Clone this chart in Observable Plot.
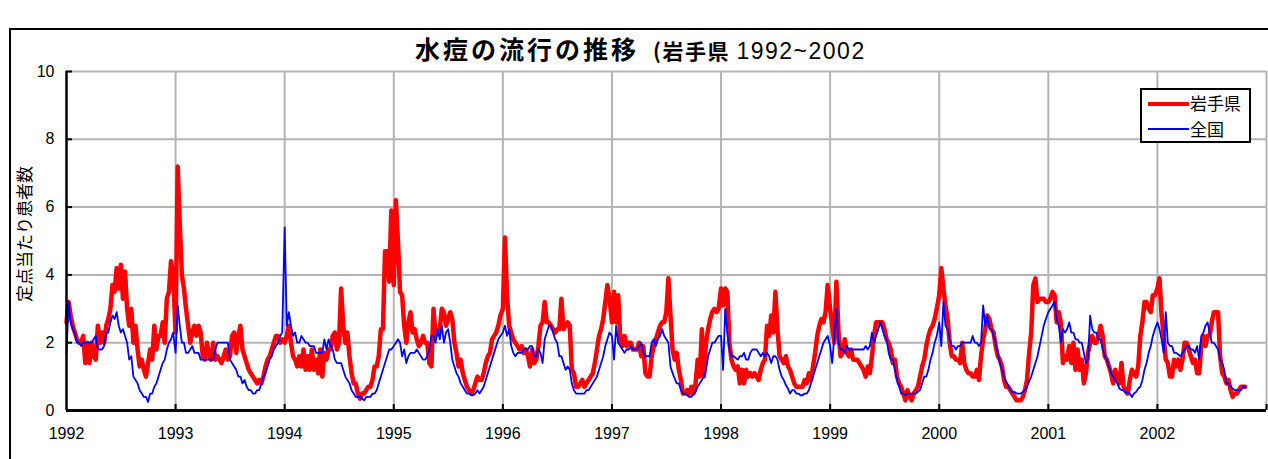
<!DOCTYPE html>
<html><head><meta charset="utf-8">
<script src="https://cdn.jsdelivr.net/npm/d3@7"></script>
<script src="https://cdn.jsdelivr.net/npm/@observablehq/plot@0.6"></script>
<style>
html,body{margin:0;padding:0;background:#fff;}
#wrap{position:relative;width:1268px;height:459px;overflow:hidden;font-family:"Liberation Sans",Arial,sans-serif;}
#frame{position:absolute;left:9px;top:28px;width:1300px;height:500px;border:2px solid #000;box-sizing:border-box;}
#chart{position:absolute;left:0;top:0;}
#title{position:absolute;left:415px;top:30px;white-space:nowrap;color:#000;}
#title .main{font-family:"Noto Sans CJK JP",sans-serif;font-weight:700;font-size:25px;letter-spacing:3px;}
#title .pref{font-family:"Noto Sans CJK JP",sans-serif;font-weight:700;font-size:21px;letter-spacing:1.5px;margin-left:14px;}
#title .yrs{font-family:"Liberation Sans",sans-serif;font-size:23px;letter-spacing:1.5px;margin-left:2px;}
#ytitle{position:absolute;left:-76px;top:224px;width:200px;height:20px;line-height:20px;text-align:center;transform:rotate(-90deg);font-family:"Noto Sans CJK JP",sans-serif;font-size:17px;color:#000;}
#legend{position:absolute;left:1140px;top:88px;width:111px;height:55px;border:2px solid #000;background:#fff;box-sizing:border-box;}
#legend .row{position:absolute;left:0;height:22px;line-height:22px;font-family:"Noto Sans CJK JP",sans-serif;font-size:17px;color:#000;}
#legend .sw{position:absolute;left:6px;width:41px;}
#legend .lab{position:absolute;left:48px;white-space:nowrap;}
</style></head>
<body>
<div id="wrap">
  <div id="frame"></div>
  <div id="chart"></div>
  <div id="title"><span class="main">水痘の流行の推移</span><span class="pref">(岩手県</span> <span class="yrs">1992~2002</span></div>
  <div id="ytitle">定点当たり患者数</div>
  <div id="legend">
    <div class="row" style="top:2px"><div class="sw" style="top:10px;height:4px;background:#ff0000"></div><span class="lab">岩手県</span></div>
    <div class="row" style="top:28px"><div class="sw" style="top:10px;height:2px;background:#0000ff"></div><span class="lab">全国</span></div>
  </div>
</div>
<script>
const years = [1992,1993,1994,1995,1996,1997,1998,1999,2000,2001,2002];
const yTicks = [0,2,4,6,8,10];
const gridYears = [1993,1994,1995,1996,1997,1998,1999,2000,2001,2002,2003];
const seriesNames = ["岩手県","全国"];

// 岩手県 weekly (per-year arrays)
const iwate1992 = [2.6,3.2,2.8,2.5,2.3,2.1,2.0,2.0,2.2,1.4,2.0,1.4,2.0,1.6,1.5,2.5,2.0,2.3,2.0,2.5,2.7,3.0,3.7,3.5,4.2,3.6,4.3,3.3,4.1,3.0,2.5,3.0,2.0,2.5,1.8,1.3,1.5,1.2,1.0,1.4,1.8,1.5,2.5,1.8,2.2,2.2,2.6,2.0,3.3,3.5,4.4,4.0];
const iwate1993 = [2.3,7.2,5.5,4.0,3.6,3.0,2.5,2.0,2.3,2.5,2.2,2.5,2.3,1.6,1.5,2.0,1.6,1.5,2.0,1.5,1.6,1.5,1.4,1.6,1.8,1.5,1.6,2.2,2.3,1.7,2.2,2.5,1.8,1.6,1.4,1.2,1.1,1.0,0.9,0.8,0.9,0.8,1.0,1.3,1.5,1.6,1.8,2.0,2.2,2.2,2.0,2.1];
const iwate1994 = [2.0,2.2,2.5,2.0,1.6,1.5,1.3,1.6,1.3,1.8,1.2,1.6,1.2,1.8,1.2,1.5,1.1,1.8,1.0,1.7,1.5,1.8,1.8,2.2,2.3,1.8,2.0,3.6,2.5,2.0,2.3,1.6,1.1,0.8,0.8,0.5,0.35,0.5,0.5,0.6,0.7,0.7,0.9,1.3,1.3,1.6,2.4,2.4,4.7,4.7,3.8,5.9];
const iwate1995 = [3.7,6.2,5.0,3.5,3.4,2.5,2.0,2.6,2.9,2.3,2.4,2.1,1.9,2.0,2.2,2.0,2.0,1.4,1.3,3.0,2.2,2.3,2.4,3.0,2.9,2.5,2.7,2.9,2.7,2.0,1.7,1.3,1.5,1.1,0.9,0.7,0.6,0.5,0.6,0.8,1.0,0.9,0.9,1.1,1.4,1.6,1.7,2.1,2.2,2.3,2.5,2.8];
const iwate1996 = [3.0,5.1,3.4,2.5,2.3,2.1,2.0,1.9,1.8,1.9,1.7,1.8,1.6,1.3,1.8,1.4,1.5,1.9,2.5,2.6,3.2,2.6,2.6,2.5,2.4,2.3,2.4,2.4,3.3,2.4,2.5,2.6,2.5,1.2,1.1,0.7,0.7,0.8,0.9,0.7,0.8,0.9,1.0,1.1,1.4,1.8,2.2,2.4,2.7,3.2,3.7,3.3];
const iwate1997 = [2.6,3.5,2.6,3.4,2.1,1.9,2.2,1.9,2.0,2.0,1.8,1.8,1.8,2.0,1.6,1.9,1.1,1.0,1.0,1.6,1.9,2.1,2.3,2.5,2.6,2.6,2.9,3.9,2.8,1.8,1.5,1.7,1.2,0.9,0.5,0.5,0.6,0.5,0.7,0.5,0.8,1.5,1.0,2.4,1.0,2.0,2.4,2.7,2.9,3.0,2.9,3.0];
const iwate1998 = [3.6,3.1,3.6,3.5,2.0,1.5,1.3,1.2,1.3,0.8,1.2,0.8,1.2,1.0,1.1,1.0,1.1,1.0,0.9,1.2,1.4,1.5,2.5,2.2,2.8,2.3,3.5,2.4,1.6,1.5,1.4,1.6,1.3,1.2,1.0,0.8,0.7,0.7,0.7,0.7,0.9,0.8,1.1,0.9,1.3,1.7,2.2,2.5,2.7,2.6,2.9,3.7];
const iwate1999 = [3.0,2.5,2.0,3.8,2.3,1.6,1.7,2.1,1.7,1.6,1.8,1.5,1.5,1.5,1.4,1.3,1.2,1.0,1.3,1.1,1.6,2.2,2.6,2.6,2.6,2.6,2.4,2.1,2.0,1.8,1.4,1.5,1.0,0.8,0.7,0.5,0.3,0.6,0.4,0.3,0.5,0.6,0.7,1.0,1.3,1.5,1.9,2.2,2.4,2.5,2.7,3.0];
const iwate2000 = [3.4,4.2,3.6,3.1,2.7,2.0,1.6,1.6,1.5,1.5,1.4,2.0,1.4,1.2,1.1,1.1,1.0,1.0,1.2,0.9,1.6,2.1,2.4,2.8,2.7,2.4,2.3,1.9,1.6,1.5,1.3,0.9,0.7,0.7,0.6,0.5,0.4,0.3,0.3,0.3,0.4,0.6,0.9,1.7,2.3,3.7,3.9,3.2,3.3,3.3,3.3,3.2];
const iwate2001 = [3.2,3.3,3.5,3.4,2.6,2.9,2.6,1.4,1.6,1.5,1.9,1.4,2.0,1.2,1.8,1.2,1.5,0.8,1.1,1.7,2.0,2.2,2.0,2.0,2.2,2.5,2.2,1.6,1.5,1.3,1.1,0.8,1.2,1.0,0.8,1.4,0.7,0.6,0.5,0.9,1.2,1.1,1.0,1.3,2.2,2.6,3.2,3.2,3.0,2.9,3.4,3.4];
const iwate2002 = [3.6,3.9,2.8,2.2,1.5,1.4,1.0,1.0,1.5,1.3,1.5,1.2,1.5,2.0,2.0,1.8,1.6,1.4,1.5,1.1,1.1,1.9,2.2,1.9,2.2,2.2,2.6,2.9,2.9,2.9,1.6,1.1,1.0,0.8,0.9,0.6,0.4,0.5,0.5,0.6,0.7,0.7,0.7];

// 全国 weekly (per-year arrays)
const zenkoku1992 = [1.7,3.2,2.6,2.4,2.3,2.0,2.0,1.9,2.0,2.0,2.0,2.0,2.0,2.1,2.2,1.8,1.8,1.8,1.9,2.3,2.3,2.6,2.8,2.7,2.9,2.5,2.3,2.4,2.2,2.0,1.5,1.6,1.0,0.9,0.8,0.6,0.5,0.4,0.4,0.25,0.5,0.5,0.7,0.8,1.0,1.2,1.4,1.5,1.8,2.0,2.1,2.3];
const zenkoku1993 = [1.7,3.1,2.5,2.0,2.0,1.7,1.7,1.8,1.9,1.7,1.7,1.7,1.5,1.5,1.5,1.5,1.5,1.5,1.5,1.8,2.0,2.0,2.0,2.0,2.0,2.0,1.5,1.4,1.3,1.2,1.0,1.0,0.8,0.9,0.7,0.6,0.6,0.5,0.5,0.6,0.6,0.8,1.0,1.1,1.3,1.5,1.6,1.8,1.9,2.0,2.2,2.3];
const zenkoku1994 = [5.4,2.5,2.9,2.5,2.2,2.3,2.0,2.0,2.2,2.1,2.0,2.0,1.9,1.9,1.9,1.7,1.7,1.7,1.7,2.1,1.8,2.1,1.9,1.8,1.5,1.4,1.4,1.4,1.2,1.0,0.9,0.8,0.6,0.5,0.4,0.4,0.4,0.35,0.3,0.4,0.4,0.4,0.5,0.5,0.6,0.8,1.0,1.2,1.4,1.6,1.8,1.8];
const zenkoku1995 = [1.9,2.0,2.1,2.0,1.6,1.8,1.4,1.6,1.7,1.7,1.7,1.8,1.7,1.6,1.5,1.5,1.6,1.8,2.2,2.2,2.0,2.4,2.1,2.5,2.0,2.3,2.4,2.0,1.5,1.3,1.1,1.0,0.8,0.7,0.6,0.5,0.5,0.45,0.45,0.5,0.6,0.5,0.6,0.7,0.9,1.1,1.3,1.5,1.7,1.9,2.1,2.2];
const zenkoku1996 = [2.3,2.5,2.2,2.4,1.9,1.7,1.6,1.7,1.7,1.7,1.8,1.8,1.8,1.9,1.9,1.6,1.6,1.8,1.7,1.4,2.1,2.3,2.5,2.5,2.3,2.1,2.0,1.6,1.6,1.4,1.2,1.3,1.2,0.8,0.6,0.5,0.5,0.5,0.5,0.5,0.6,0.6,0.7,0.8,0.9,1.0,1.2,1.4,1.6,1.9,2.1,2.3];
const zenkoku1997 = [2.2,1.5,2.5,2.0,1.9,1.8,1.7,1.8,1.8,1.9,1.8,1.8,1.8,1.9,2.0,1.7,1.6,1.6,1.6,2.0,2.1,1.9,2.1,2.2,2.4,2.2,2.1,2.0,1.3,1.1,0.95,0.8,0.8,0.6,0.5,0.5,0.45,0.4,0.4,0.5,0.55,0.7,0.8,0.9,1.0,1.2,1.6,1.8,2.0,2.0,2.1,2.2];
const zenkoku1998 = [2.2,1.2,3.0,2.3,1.8,1.6,1.6,1.55,1.5,1.6,1.6,1.7,1.5,1.5,1.7,1.8,1.8,1.8,1.7,1.6,1.7,1.6,1.7,1.6,1.4,1.6,1.6,1.5,1.2,1.0,0.9,0.75,0.65,0.5,0.6,0.6,0.5,0.5,0.45,0.45,0.5,0.5,0.6,0.8,1.0,1.2,1.4,1.6,1.8,2.0,2.1,2.2];
const zenkoku1999 = [1.9,1.4,2.2,3.0,2.0,1.8,1.8,1.7,1.9,1.8,1.8,1.8,1.8,1.8,1.8,1.8,1.8,1.9,1.8,1.9,2.3,2.0,2.2,2.4,2.6,2.4,2.2,2.1,1.7,1.5,1.5,1.2,0.9,0.7,0.5,0.5,0.45,0.5,0.5,0.5,0.5,0.5,0.55,0.6,0.8,1.0,1.0,1.2,1.5,1.7,2.0,2.2];
const zenkoku2000 = [2.6,1.9,3.2,2.5,2.4,2.1,1.9,1.9,1.8,1.9,1.9,2.0,2.0,2.0,2.0,2.0,2.2,2.0,2.0,1.9,2.0,3.1,2.5,2.8,2.4,2.4,2.2,2.0,1.7,1.4,1.2,1.0,0.85,0.75,0.6,0.55,0.55,0.5,0.5,0.5,0.55,0.6,0.7,0.85,1.0,1.2,1.4,1.6,1.9,2.2,2.5,2.7];
const zenkoku2001 = [2.9,3.0,3.1,3.2,2.7,2.5,2.0,2.4,2.3,2.4,2.6,2.3,2.3,2.1,2.1,2.0,2.0,1.7,1.4,1.5,2.8,2.4,2.3,2.3,2.1,2.1,1.8,1.6,1.5,1.3,1.1,1.0,0.9,0.8,0.65,0.6,0.6,0.5,0.55,0.5,0.4,0.5,0.55,0.65,0.7,0.9,1.2,1.4,1.7,1.9,2.2,2.4];
const zenkoku2002 = [2.6,2.4,2.1,1.7,2.9,2.0,1.9,1.9,1.7,1.7,1.65,1.6,1.7,1.8,1.9,1.9,1.8,1.8,1.7,1.9,1.5,2.2,2.3,2.5,2.6,2.3,2.0,2.0,1.9,1.8,1.5,1.4,1.2,0.8,0.8,0.7,0.65,0.6,0.6,0.6,0.6,0.7,0.7];

const iwateYears = [iwate1992,iwate1993,iwate1994,iwate1995,iwate1996,iwate1997,iwate1998,iwate1999,iwate2000,iwate2001,iwate2002];
const zenkokuYears = [zenkoku1992,zenkoku1993,zenkoku1994,zenkoku1995,zenkoku1996,zenkoku1997,zenkoku1998,zenkoku1999,zenkoku2000,zenkoku2001,zenkoku2002];

function weekly(arrs) {
  const out = [];
  arrs.forEach((arr, k) => arr.forEach((v, i) => out.push({t: years[k] + i / 52.18, v})));
  return out;
}
const iwateData = weekly(iwateYears);
const zenkokuData = weekly(zenkokuYears);

const W = 1268, H = 459, mT = 71, mB = 49, mL = 66, mR = 2;
const innerW = W - mL - mR, innerH = H - mT - mB;

const chart = Plot.plot({
  width: W, height: H,
  marginTop: mT, marginBottom: mB, marginLeft: mL, marginRight: mR,
  style: {fontFamily: "'Liberation Sans', Arial, sans-serif", fontSize: "16px", color: "#000", background: "transparent", overflow: "visible"},
  x: {domain: [1992, 2003]},
  y: {domain: [0, 10]},
  marks: [
    Plot.gridX({ticks: gridYears, stroke: "#b4b4b4", strokeOpacity: 1, strokeWidth: 2}),
    Plot.gridY({ticks: yTicks.filter(d => d > 0), stroke: "#b4b4b4", strokeOpacity: 1, strokeWidth: 2}),
    Plot.line(iwateData, {x: "t", y: "v", stroke: "#ff0000", strokeWidth: 4.5, strokeLinejoin: "round"}),
    Plot.line(zenkokuData, {x: "t", y: "v", stroke: "#0000ff", strokeWidth: 1.8, strokeLinejoin: "round"}),
    Plot.tickY(yTicks, {y: d => d, stroke: "#000", strokeWidth: 2, insetRight: innerW - 6}),
    Plot.tickX(gridYears, {x: d => d, stroke: "#000", strokeWidth: 2, insetTop: innerH - 6}),
    Plot.ruleX([1992], {stroke: "#000", strokeWidth: 2.5}),
    Plot.ruleY([0], {stroke: "#000", strokeWidth: 3}),
    Plot.axisX({ticks: years, tickSize: 0, tickPadding: 17, tickFormat: d => String(d), fontSize: 16, label: null}),
    Plot.axisY({ticks: yTicks, tickSize: 0, tickPadding: 12, tickFormat: d => String(d), fontSize: 16, label: null})
  ]
});
document.getElementById("chart").appendChild(chart);
</script>
</body></html>
